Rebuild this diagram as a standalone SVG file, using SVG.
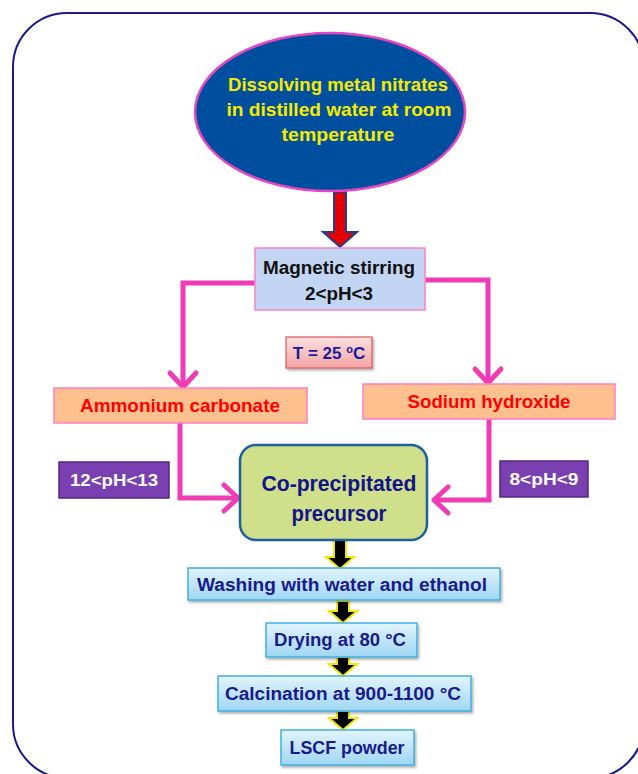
<svg xmlns="http://www.w3.org/2000/svg" width="638" height="774" viewBox="0 0 638 774">
<defs>
<linearGradient id="gBlue" x1="0" y1="0" x2="0" y2="1">
<stop offset="0" stop-color="#e2f4fd"/>
<stop offset="1" stop-color="#9fd6f4"/>
</linearGradient>
<linearGradient id="gPink" x1="0" y1="0" x2="0" y2="1">
<stop offset="0" stop-color="#fde0e0"/>
<stop offset="1" stop-color="#f3a4a4"/>
</linearGradient>
<filter id="sh" x="-10%" y="-20%" width="130%" height="160%">
<feDropShadow dx="1.5" dy="2" stdDeviation="1.2" flood-color="#000" flood-opacity="0.3"/>
</filter>
</defs>
<style>
text{font-family:"Liberation Sans",Arial,sans-serif;font-weight:bold;text-anchor:middle}
.pink{fill:none;stroke:#f03cb4;stroke-width:5;stroke-linejoin:miter}
.chev{fill:none;stroke:#f03cb4;stroke-width:5;stroke-linecap:round;stroke-linejoin:round}
.step{fill:url(#gBlue);stroke:#3fb0e2;stroke-width:1.5;filter:url(#sh)}
.stept{fill:#1a1a8c;font-size:18px}
.barr{fill:#000;stroke:#f4e600;stroke-width:2;stroke-linejoin:miter}
.chem{fill:#ffc08f;stroke:#ff7fc4;stroke-width:1.5}
.chemt{fill:#ff0000;font-size:18.5px}
.ph{fill:#7a3fb0;stroke:#55287f;stroke-width:1.5}
.pht{fill:#fff;font-size:17px}
</style>
<rect x="13" y="13" width="631" height="765" rx="54" ry="54" fill="#fff" stroke="#1a1a8c" stroke-width="2"/>

<g id="connectors">
<path d="M334,192 V232 H323 L340,247 L357,232 H346 V192 Z" fill="#e60000" stroke="#1f3f8f" stroke-width="2" stroke-linejoin="miter"/>
<path class="pink" d="M255,283 H183 V386"/>
<path class="chev" d="M170,373 L183,387 L196,373"/>
<path class="pink" d="M425,280 H488 V382"/>
<path class="chev" d="M475,369 L488,383 L501,369"/>
<path class="pink" d="M180,423 V498 H237"/>
<path class="chev" d="M224,485 L238,498 L224,511"/>
<path class="pink" d="M489,419 V500 H435"/>
<path class="chev" d="M448,487 L434,500 L448,513"/>
<path class="barr" d="M334,540 V557 H326 L340,569 L354,557 H346 V540 Z"/>
<path class="barr" d="M337,601 V611 H329 L343,623 L357,611 H349 V601 Z"/>
<path class="barr" d="M337,657 V664 H329 L343,676 L357,664 H349 V657 Z"/>
<path class="barr" d="M337,711 V718 H329 L343,730 L357,718 H349 V711 Z"/>
</g>

<g id="dissolving">
<ellipse cx="330" cy="112" rx="135" ry="79" fill="#004f9e" stroke="#e845c4" stroke-width="2.5"/>
<text x="338" y="91" fill="#f6ea00" font-size="18.5" textLength="220" lengthAdjust="spacingAndGlyphs">Dissolving metal nitrates</text>
<text x="339" y="116" fill="#f6ea00" font-size="18.5" textLength="225" lengthAdjust="spacingAndGlyphs">in distilled water at room</text>
<text x="338" y="141" fill="#f6ea00" font-size="18.5" textLength="113" lengthAdjust="spacingAndGlyphs">temperature</text>
</g>

<g id="magnetic">
<rect x="255" y="248" width="170" height="62" fill="#c2d6f3" stroke="#ff7fc4" stroke-width="1.5"/>
<text x="339" y="274" fill="#111" font-size="18" textLength="152" lengthAdjust="spacingAndGlyphs">Magnetic stirring</text>
<text x="339" y="300" fill="#111" font-size="18" textLength="68" lengthAdjust="spacingAndGlyphs">2&lt;pH&lt;3</text>
</g>

<g id="temp">
<rect x="286" y="337" width="86" height="31" fill="url(#gPink)" stroke="#e05858" stroke-width="1.2" filter="url(#sh)"/>
<text x="329" y="359" fill="#1a1a9a" font-size="17">T = 25 <tspan font-size="11" dy="-6">o</tspan><tspan dy="6">C</tspan></text>
</g>

<g id="ammonium">
<rect class="chem" x="54" y="388" width="253" height="35"/>
<text class="chemt" x="180" y="412" textLength="200" lengthAdjust="spacingAndGlyphs">Ammonium carbonate</text>
</g>

<g id="sodium">
<rect class="chem" x="363" y="384" width="252" height="35"/>
<text class="chemt" x="489" y="408" textLength="163" lengthAdjust="spacingAndGlyphs">Sodium hydroxide</text>
</g>

<g id="ph1213">
<rect class="ph" x="59" y="462" width="110" height="36"/>
<text class="pht" x="114" y="486" textLength="88" lengthAdjust="spacingAndGlyphs">12&lt;pH&lt;13</text>
</g>

<g id="ph89">
<rect class="ph" x="500" y="461" width="88" height="36"/>
<text class="pht" x="544" y="485" textLength="69" lengthAdjust="spacingAndGlyphs">8&lt;pH&lt;9</text>
</g>

<g id="precursor">
<rect x="240" y="445" width="187" height="95" rx="16" ry="16" fill="#cfdf8a" stroke="#1f5f9f" stroke-width="2.5"/>
<text x="339" y="491" fill="#14148a" font-size="22" textLength="155" lengthAdjust="spacingAndGlyphs">Co-precipitated</text>
<text x="339" y="521" fill="#14148a" font-size="22" textLength="95" lengthAdjust="spacingAndGlyphs">precursor</text>
</g>

<g id="washing">
<rect class="step" x="188" y="568" width="312" height="32"/>
<text class="stept" x="342" y="591" textLength="290" lengthAdjust="spacingAndGlyphs">Washing with water and ethanol</text>
</g>

<g id="drying">
<rect class="step" x="266" y="623" width="151" height="34"/>
<text class="stept" x="340" y="646" textLength="132" lengthAdjust="spacingAndGlyphs">Drying at 80 °C</text>
</g>

<g id="calcination">
<rect class="step" x="218" y="676" width="253" height="35"/>
<text class="stept" x="343" y="700" textLength="236" lengthAdjust="spacingAndGlyphs">Calcination at 900-1100 °C</text>
</g>

<g id="lscf">
<rect class="step" x="281" y="730" width="133" height="35"/>
<text class="stept" x="347" y="754" textLength="115" lengthAdjust="spacingAndGlyphs">LSCF powder</text>
</g>
</svg>
